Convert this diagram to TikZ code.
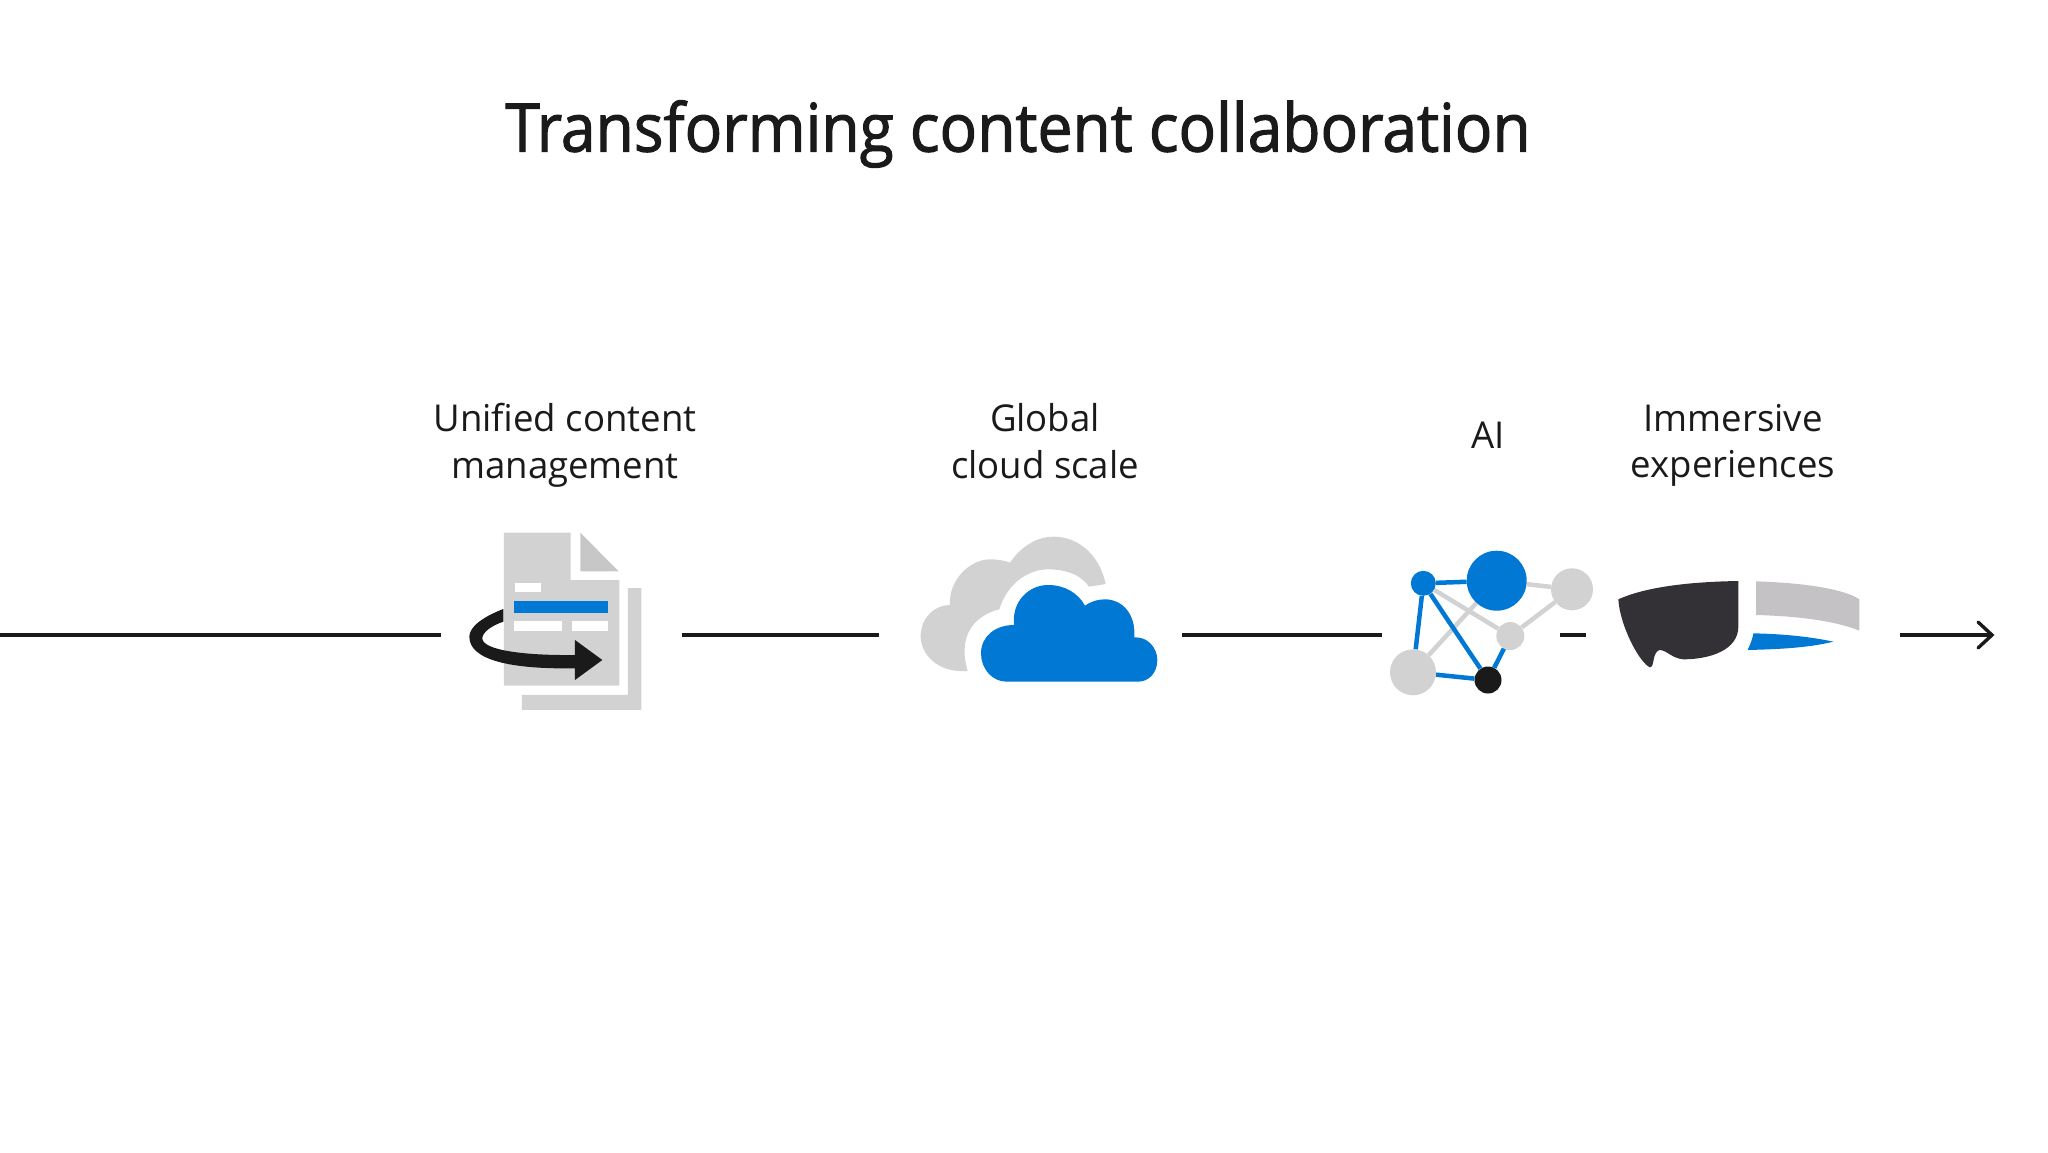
\documentclass[tikz,border=0pt]{standalone}
\usepackage{fontspec}
\setmainfont[FakeStretch=0.988]{Open Sans}
\newfontfamily\titlefont[FakeBold=1.6, FakeStretch=0.93]{Open Sans}
\definecolor{msblue}{HTML}{0078D4}
\definecolor{iconGray}{HTML}{D2D2D2}
\definecolor{ink}{HTML}{1A1A1A}
\definecolor{visorDark}{HTML}{333136}
\definecolor{bandGray}{HTML}{C4C2C4}
\tikzset{
    timeline/.style={draw=ink, line width=3.4pt},
    label/.style={align=center, text=ink, font=\fontsize{37}{46.5}\selectfont},
    icon/.style={x=0.3333pt, y=-0.3333pt},
    dot/.style={circle, inner sep=0pt, minimum size=#1},
    blueedge/.style={draw=msblue, line width=4.5pt},
    grayedge/.style={draw=iconGray, line width=4.5pt},
}
\begin{document}
\begin{tikzpicture}[x=1pt, y=-1pt]
    \useasboundingbox (0,0) rectangle (2048,1152);

    \node[text=ink, font=\titlefont\fontsize{67}{74}\selectfont] (title) at (1018,134) {Transforming content collaboration};

    \node[label] (unified) at (565,445.5) {Unified content\\management};
    \node[label] (global) at (1045,441) {Global\\cloud scale};
    \node[label] (ai) at (1488,435) {AI};
    \node[label] (immersive) at (1733,445.5) {Immersive\\experiences};

    % timeline
    \coordinate (a0) at (0,635);
    \coordinate (a1) at (441,635);
    \coordinate (b0) at (682,635);
    \coordinate (b1) at (879,635);
    \coordinate (c0) at (1182,635);
    \coordinate (c1) at (1382,635);
    \coordinate (d0) at (1560,635);
    \coordinate (d1) at (1586,635);
    \coordinate (e0) at (1900,635);
    \coordinate (e1) at (1992,635);
    \draw[timeline] (a0) -- (a1);
    \draw[timeline] (b0) -- (b1);
    \draw[timeline] (c0) -- (c1);
    \draw[timeline] (d0) -- (d1);
    \draw[timeline] (e0) -- (e1);
    \draw[timeline, line cap=round, line join=miter] (1978,622) -- (e1) -- (1978,648);

    % document
    \begin{scope}[shift={(440,510)}, icon]
        \fill[iconGray] (192,68) -- (392,68) -- (392,210) -- (538,210) -- (538,527) -- (192,527) -- cycle;
        \fill[iconGray!95!black] (421,68) -- (536,184) -- (421,184) -- cycle;
        \fill[iconGray] (564,234) -- (604,234) -- (604,600) -- (246,600) -- (246,555) -- (564,555) -- cycle;
        \fill[white] (225,220) rectangle (302,247);
        \fill[msblue] (223,272) rectangle (504,308);
        \fill[white] (223,333) rectangle (367,363);
        \fill[white] (396,333) rectangle (504,363);
        \fill[ink] (190,297) .. controls (130,320) and (88,350) .. (88,380)
            .. controls (88,450) and (210,478) .. (405,475) -- (405,510) -- (487,450) -- (405,390) -- (405,435)
            .. controls (250,437) and (127,420) .. (127,385)
            .. controls (127,365) and (160,345) .. (190,335) -- cycle;
    \end{scope}

    % clouds
    \begin{scope}[shift={(900,510)}, icon]
        \fill[iconGray] (203,483) .. controls (110,490) and (60,430) .. (62,375)
            .. controls (65,320) and (105,285) .. (150,285)
            .. controls (145,210) and (210,148) .. (270,148)
            .. controls (295,148) and (315,152) .. (330,158)
            .. controls (370,100) and (420,80) .. (460,80)
            .. controls (540,80) and (600,140) .. (617,222) -- (567,230)
            .. controls (540,190) and (490,178) .. (445,178)
            .. controls (380,178) and (320,225) .. (298,298)
            .. controls (230,315) and (170,370) .. (203,483) -- cycle;
        \fill[msblue] (320,515) .. controls (275,515) and (243,475) .. (243,430)
            .. controls (243,380) and (285,345) .. (342,345)
            .. controls (335,275) and (385,225) .. (445,225)
            .. controls (495,225) and (535,250) .. (555,287)
            .. controls (575,273) and (595,268) .. (615,268)
            .. controls (665,268) and (708,310) .. (703,382)
            .. controls (745,380) and (772,415) .. (772,450)
            .. controls (772,490) and (745,515) .. (715,515) -- cycle;
    \end{scope}

    % network
    \node[dot=25pt, fill=msblue] (n1) at (1423.3,583.3) {};
    \node[dot=60pt, fill=msblue] (n2) at (1496.7,580.7) {};
    \node[dot=42pt, fill=iconGray] (n3) at (1572,589.3) {};
    \node[dot=28pt, fill=iconGray] (n4) at (1510.3,636) {};
    \node[dot=46pt, fill=iconGray] (n5) at (1413,672.3) {};
    \node[dot=27pt, fill=ink] (n6) at (1488,680) {};
    \draw[grayedge] (n2) -- (n3);
    \draw[grayedge] (n2) -- (n5);
    \draw[grayedge] (n1) -- (n4);
    \draw[grayedge] (n4) -- (n3);
    \draw[blueedge] (n1) -- (n2);
    \draw[blueedge] (n1) -- (n5);
    \draw[blueedge] (n1) -- (n6);
    \draw[blueedge] (n5) -- (n6);
    \draw[blueedge] (n4) -- (n6);

    % headset
    \begin{scope}[shift={(1600,560)}, icon]
        \fill[visorDark] (55,118) .. controls (150,75) and (300,65) .. (415,63) -- (415,200)
            .. controls (415,270) and (330,298) .. (250,298)
            .. controls (215,295) and (200,270) .. (178,270)
            .. controls (155,280) and (165,320) .. (150,322)
            .. controls (120,310) and (60,200) .. (55,118) -- cycle;
        \fill[bandGray] (468,64) .. controls (600,68) and (730,85) .. (778,118) -- (778,212)
            .. controls (700,180) and (580,168) .. (468,165) -- cycle;
        \fill[msblue] (460,220) .. controls (560,222) and (640,232) .. (700,245)
            .. controls (620,265) and (520,268) .. (443,270)
            .. controls (452,250) and (458,235) .. (460,220) -- cycle;
    \end{scope}
\end{tikzpicture}
\end{document}
